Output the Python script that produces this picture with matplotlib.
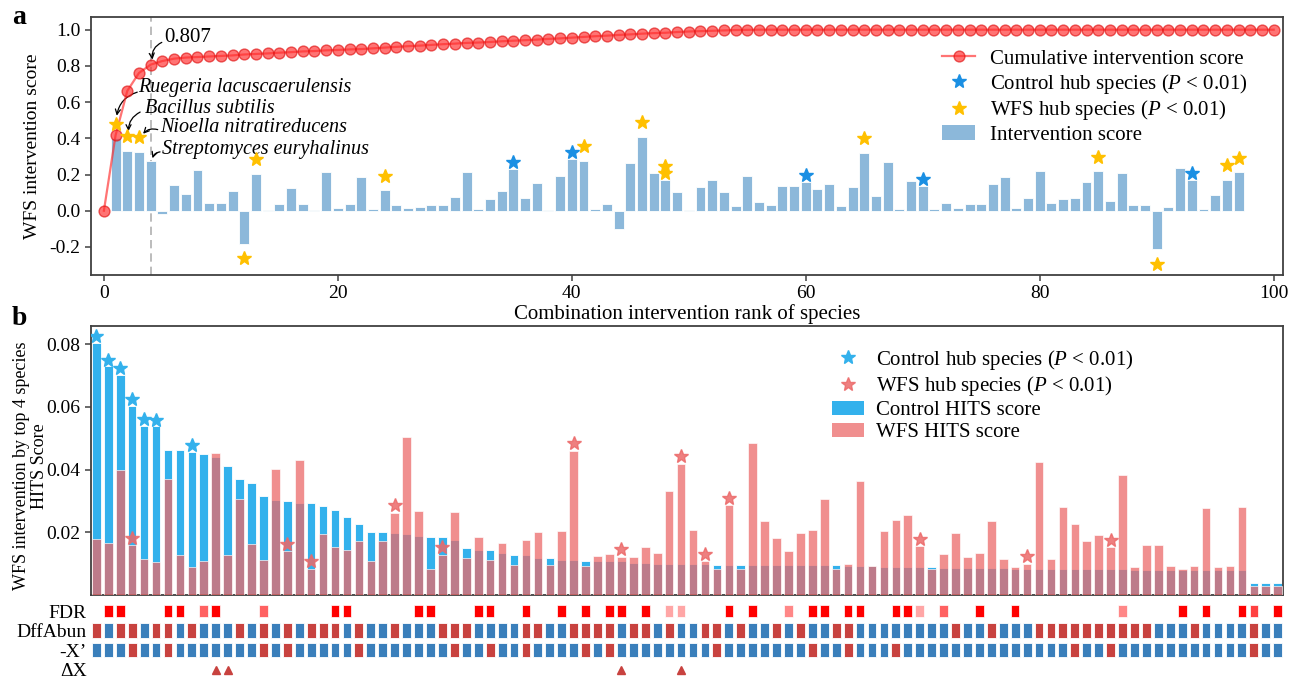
import numpy as np
import matplotlib
matplotlib.use('Agg')
import matplotlib.pyplot as plt
from matplotlib.lines import Line2D
from matplotlib.patches import Patch

plt.rcParams['font.family'] = 'Liberation Serif'
plt.rcParams['mathtext.fontset'] = 'custom'
plt.rcParams['mathtext.rm'] = 'Liberation Serif'
plt.rcParams['mathtext.it'] = 'Liberation Serif:italic'
plt.rcParams['font.size'] = 14

# ---- panel a: single-species intervention scores (rank 1..100)
cumulative = [0.000, 0.417, 0.662, 0.761, 0.807, 0.827, 0.840, 0.846, 0.849, 0.852,
              0.855, 0.858, 0.863, 0.866, 0.869, 0.873, 0.876, 0.880, 0.882, 0.886,
              0.888, 0.891, 0.893, 0.897, 0.901, 0.905, 0.909, 0.912, 0.916, 0.920,
              0.923, 0.927, 0.929, 0.932, 0.936, 0.939, 0.942, 0.945, 0.949, 0.952,
              0.956, 0.960, 0.964, 0.967, 0.971, 0.974, 0.978, 0.981, 0.983, 0.987,
              0.990, 0.992, 0.994, 0.996, 0.998, 0.999, 1.000, 1.000, 1.000, 1.000,
              1.000, 1.000, 1.000, 1.000, 1.000, 1.000, 1.000, 1.000, 1.000, 1.000,
              1.000, 1.000, 1.000, 1.000, 1.000, 1.000, 1.000, 1.000, 1.000, 1.000,
              1.000, 1.000, 1.000, 1.000, 1.000, 1.000, 1.000, 1.000, 1.000, 1.000,
              1.000, 1.000, 1.000, 1.000, 1.000, 1.000, 1.000, 1.000, 1.000, 1.000,
              1.000]
intervention = [0.400, 0.332, 0.327, 0.273, -0.020, 0.142, 0.092, 0.227, 0.042, 0.042,
                0.109, -0.183, 0.203, 0.002, 0.039, 0.125, 0.035, 0.004, 0.212, 0.015,
                0.035, 0.188, 0.009, 0.113, 0.031, 0.015, 0.022, 0.033, 0.030, 0.078,
                0.212, 0.011, 0.065, 0.107, 0.231, 0.072, 0.153, 0.002, 0.192, 0.286,
                0.277, 0.011, 0.039, -0.100, 0.262, 0.408, 0.207, 0.168, 0.103, 0.002,
                0.129, 0.170, 0.105, 0.028, 0.192, 0.048, 0.030, 0.137, 0.137, 0.159,
                0.120, 0.146, 0.024, 0.131, 0.319, 0.079, 0.269, 0.007, 0.166, 0.137,
                0.011, 0.042, 0.013, 0.037, 0.037, 0.148, 0.186, 0.015, 0.070, 0.221,
                0.042, 0.065, 0.070, 0.157, 0.218, 0.055, 0.207, 0.030, 0.030, -0.212,
                0.018, 0.234, 0.168, 0.007, 0.087, 0.170, 0.212, 0.001, 0.001, 0.001]
ctrl_hub_a = [35, 40, 60, 70, 93]
wfs_hub_a = [1, 2, 3, 12, 13, 24, 41, 46, 48, 65, 85, 90, 96, 97]
wfs_hub_a_low = [48]
top_species = ['Ruegeria lacuscaerulensis', 'Bacillus subtilis',
               'Nioella nitratireducens', 'Streptomyces euryhalinus']

# ---- panel b: HITS scores after removing the top 4 species
ctrl_hits = [0.0805, 0.0729, 0.0702, 0.0604, 0.0540, 0.0538, 0.0463, 0.0461, 0.0456, 0.0449,
             0.0440, 0.0412, 0.0371, 0.0358, 0.0315, 0.0304, 0.0299, 0.0295, 0.0292, 0.0284,
             0.0272, 0.0249, 0.0227, 0.0202, 0.0202, 0.0197, 0.0193, 0.0187, 0.0184, 0.0184,
             0.0177, 0.0150, 0.0145, 0.0145, 0.0135, 0.0129, 0.0129, 0.0119, 0.0117, 0.0113,
             0.0113, 0.0109, 0.0107, 0.0107, 0.0107, 0.0101, 0.0101, 0.0100, 0.0100, 0.0100,
             0.0098, 0.0098, 0.0097, 0.0096, 0.0096, 0.0096, 0.0096, 0.0096, 0.0096, 0.0096,
             0.0096, 0.0095, 0.0095, 0.0092, 0.0092, 0.0092, 0.0090, 0.0090, 0.0090, 0.0090,
             0.0088, 0.0087, 0.0087, 0.0086, 0.0086, 0.0085, 0.0085, 0.0082, 0.0082, 0.0082,
             0.0082, 0.0082, 0.0082, 0.0082, 0.0082, 0.0082, 0.0082, 0.0080, 0.0080, 0.0080,
             0.0080, 0.0080, 0.0080, 0.0080, 0.0080, 0.0080, 0.0080, 0.0039, 0.0039, 0.0039]
wfs_hits = [0.0180, 0.0165, 0.0400, 0.0159, 0.0115, 0.0105, 0.0370, 0.0129, 0.0089, 0.0108,
            0.0452, 0.0129, 0.0306, 0.0163, 0.0112, 0.0403, 0.0140, 0.0431, 0.0083, 0.0196,
            0.0154, 0.0144, 0.0172, 0.0110, 0.0173, 0.0262, 0.0504, 0.0267, 0.0083, 0.0128,
            0.0266, 0.0119, 0.0184, 0.0113, 0.0166, 0.0095, 0.0174, 0.0200, 0.0097, 0.0203,
            0.0460, 0.0094, 0.0126, 0.0131, 0.0122, 0.0121, 0.0152, 0.0135, 0.0331, 0.0419,
            0.0207, 0.0107, 0.0082, 0.0286, 0.0082, 0.0485, 0.0236, 0.0181, 0.0140, 0.0198,
            0.0207, 0.0306, 0.0082, 0.0100, 0.0364, 0.0094, 0.0203, 0.0240, 0.0256, 0.0156,
            0.0083, 0.0132, 0.0198, 0.0120, 0.0134, 0.0236, 0.0115, 0.0088, 0.0100, 0.0423,
            0.0115, 0.0281, 0.0225, 0.0172, 0.0191, 0.0152, 0.0382, 0.0089, 0.0161, 0.0161,
            0.0094, 0.0084, 0.0094, 0.0277, 0.0088, 0.0091, 0.0281, 0.0028, 0.0028, 0.0028]
ctrl_hub_b = [0, 1, 2, 3, 4, 5, 8]
wfs_hub_b = [3, 16, 18, 25, 29, 40, 44, 49, 51, 53, 69, 78, 85]

# annotation rows under panel b
fdr_idx = [1, 2, 6, 7, 9, 10, 14, 20, 21, 27, 28, 32, 33, 36, 39, 41, 43, 44, 46, 48,
           49, 53, 55, 58, 60, 61, 63, 64, 67, 68, 69, 71, 74, 77, 86, 91, 93, 96, 97, 99]
fdr_shade = [1, 1, 1, 1, 0.62, 1, 0.62, 1, 1, 1, 1, 1, 1, 1, 1, 1, 1, 1, 1, 0.35,
             0.35, 1, 1, 0.47, 1, 1, 1, 1, 1, 1, 0.35, 0.62, 1, 1, 0.47, 1, 1, 1, 0.75, 1]
dffabun_up = [1, 0, 1, 1, 0, 1, 1, 0, 1, 0, 0, 0, 1, 0, 1, 0, 1, 0, 1, 1,
              1, 0, 1, 0, 0, 1, 0, 0, 0, 1, 1, 1, 0, 0, 0, 0, 1, 1, 0, 0,
              1, 1, 1, 1, 0, 1, 1, 0, 1, 0, 0, 1, 1, 0, 1, 0, 0, 1, 0, 1,
              0, 0, 1, 1, 0, 0, 0, 0, 0, 0, 0, 0, 1, 0, 0, 1, 0, 0, 0, 1,
              1, 1, 1, 1, 1, 1, 1, 1, 1, 0, 0, 0, 1, 0, 0, 0, 0, 1, 0, 0]
negx_up = [3, 6, 14, 16, 22, 30, 33, 36, 41, 43, 52, 60, 63, 67, 82, 85, 97]
delta_x = [10, 11, 44, 49]
row_labels = ['FDR', 'DffAbun', '-X\u2019', '\u0394X']

BAR_A = '#8cb8da'
CUM_RED = '#ff2a2a'
STAR_Y = '#ffc000'
STAR_B = '#1a8fe3'
CTRL_C = '#33b1ec'
WFS_C = '#ec6a6a'
UP_C = '#c8423f'
DOWN_C = '#3a7fbb'
SPINE = '#404040'

fig = plt.figure(figsize=(12.93, 6.78), dpi=100)
L, W = 0.0704, 0.9219


def style_axes(ax):
    for s in ax.spines.values():
        s.set_color(SPINE)
        s.set_linewidth(1.3)
    ax.tick_params(direction='out', length=4, width=1.1, color=SPINE)


# ================= panel a =================
ax = fig.add_axes([L, 0.5944, W, 0.3805])
style_axes(ax)
ranks = np.arange(1, len(intervention) + 1)
ax.bar(ranks, intervention, width=0.85, color=BAR_A, edgecolor='white',
       linewidth=0.6, zorder=2)
ax.plot(np.arange(len(cumulative)), cumulative, '-o', color=CUM_RED, alpha=0.65,
        ms=7.8, mec='#e01010', mew=1.0, lw=1.6, zorder=4)
ax.axvline(4, color='#b0b0b0', ls=(0, (5, 3)), lw=1.2, zorder=1)

iv = np.array(intervention)
yb = [iv[i - 1] + 0.04 for i in ctrl_hub_a]
ax.plot(ctrl_hub_a, yb, '*', color=STAR_B, ms=10, ls='none', zorder=5)
yy = [iv[i - 1] + 0.08 if iv[i - 1] > 0 else iv[i - 1] - 0.08 for i in wfs_hub_a]
ax.plot(wfs_hub_a, yy, '*', color=STAR_Y, ms=10, ls='none', zorder=5)
ax.plot(wfs_hub_a_low, [iv[i - 1] + 0.04 for i in wfs_hub_a_low], '*', color=STAR_Y,
        ms=10, ls='none', zorder=5)

ax.set_xlim(-1.1, 100.8)
ax.set_ylim(-0.355, 1.07)
ax.set_xticks([0, 20, 40, 60, 80, 100])
ax.set_yticks([-0.2, 0.0, 0.2, 0.4, 0.6, 0.8, 1.0])
ax.set_yticklabels(['-0.2', '0.0', '0.2', '0.4', '0.6', '0.8', '1.0'])
ax.set_xlabel('Combination intervention rank of species', fontsize=15, labelpad=1)
ax.set_ylabel('WFS intervention score', fontsize=14, labelpad=6)

arrow_kw = dict(arrowstyle='->', color='black', lw=0.9, shrinkA=0, shrinkB=0,
                mutation_scale=9)
ax.text(5.2, 0.955, '%.3f' % cumulative[4], fontsize=15, ha='left', va='center')
ax.annotate('', xy=(4.15, 0.835), xytext=(4.95, 0.93),
            arrowprops=dict(connectionstyle='arc3,rad=0.35', **arrow_kw))
label_pos = [(2.9, 0.683), (3.5, 0.566), (4.8, 0.462), (4.95, 0.340)]
arrow_from = [(2.85, 0.655), (3.1, 0.545), (4.6, 0.448), (4.8, 0.325)]
arrow_to = [(1.1, 0.525), (2.1, 0.44), (3.35, 0.425), (4.15, 0.29)]
for name, p, a0, a1 in zip(top_species, label_pos, arrow_from, arrow_to):
    ax.text(p[0], p[1], name, fontsize=14.5, style='italic', ha='left', va='center')
    ax.annotate('', xy=a1, xytext=a0,
                arrowprops=dict(connectionstyle='arc3,rad=0.3', **arrow_kw))

handles_a = [
    Line2D([0], [0], color=CUM_RED, alpha=0.65, marker='o', ms=7.8, mec='#e01010', lw=1.6),
    Line2D([0], [0], color=STAR_B, marker='*', ms=10, ls='none'),
    Line2D([0], [0], color=STAR_Y, marker='*', ms=10, ls='none'),
    Patch(facecolor=BAR_A, edgecolor='none'),
]
labels_a = ['Cumulative intervention score', 'Control hub species ($P$ < 0.01)',
            'WFS hub species ($P$ < 0.01)', 'Intervention score']
ax.legend(handles_a, labels_a, loc='upper left', bbox_to_anchor=(0.714, 0.876),
          frameon=False, fontsize=15, borderpad=0, borderaxespad=0,
          handlelength=1.6, handletextpad=0.7, labelspacing=0.14)

# ================= panel b =================
bx = fig.add_axes([L, 0.1224, W, 0.3968])
style_axes(bx)
pos = np.arange(len(ctrl_hits))
bx.bar(pos, ctrl_hits, width=0.72, color=CTRL_C, edgecolor='white', linewidth=0.6, zorder=2)
bx.bar(pos, wfs_hits, width=0.72, color=WFS_C, alpha=0.75, edgecolor='white',
       linewidth=0.6, zorder=3)
ch = np.array(ctrl_hits)
wh = np.array(wfs_hits)
bx.plot(ctrl_hub_b, ch[ctrl_hub_b] + 0.0021, '*', color=CTRL_C, ms=10, ls='none', zorder=5)
bx.plot(wfs_hub_b, wh[wfs_hub_b] + 0.0024, '*', color=WFS_C, alpha=0.85, ms=10,
        ls='none', zorder=5)
bx.set_xlim(-0.45, 99.45)
bx.set_ylim(0, 0.0858)
bx.set_xticks([])
bx.set_yticks([0.02, 0.04, 0.06, 0.08])
bx.set_yticklabels(['0.02', '0.04', '0.06', '0.08'], fontsize=14)
bx.set_ylabel('WFS intervention by top 4 species\nHITS Score', fontsize=13,
              linespacing=1.1)
bx.yaxis.set_label_coords(-0.036, 0.48)

handles_b = [
    Line2D([0], [0], color=CTRL_C, marker='*', ms=10, ls='none'),
    Line2D([0], [0], color=WFS_C, alpha=0.85, marker='*', ms=10, ls='none'),
    Patch(facecolor=CTRL_C, edgecolor='none'),
    Patch(facecolor=WFS_C, alpha=0.75, edgecolor='none'),
]
labels_b = ['Control hub species ($P$ < 0.01)', 'WFS hub species ($P$ < 0.01)',
            'Control HITS score', 'WFS HITS score']
bx.legend(handles_b, labels_b, loc='upper left', bbox_to_anchor=(0.622, 0.92),
          frameon=False, fontsize=15, borderpad=0, borderaxespad=0,
          handlelength=1.5, handletextpad=0.6, labelspacing=0.12)

# ================= annotation rows =================
hx = fig.add_axes([L, 0.0, W, 0.1150])
fdr_colors = [(1.0, 1 - s, 1 - s) for s in fdr_shade]
hx.bar(fdr_idx, 0.62, bottom=-0.31, width=0.72, color=fdr_colors,
       edgecolor='white', linewidth=0.5)
hx.bar(pos, 0.76, bottom=1 - 0.38, width=0.74,
       color=[UP_C if d else DOWN_C for d in dffabun_up],
       edgecolor='white', linewidth=0.6)
hx.bar(pos, 0.72, bottom=2 - 0.36, width=0.74,
       color=[UP_C if i in negx_up else DOWN_C for i in pos],
       edgecolor='white', linewidth=0.6)
hx.plot(delta_x, [3] * len(delta_x), '^', color=UP_C, ms=6, ls='none')
hx.set_xlim(-0.45, 99.45)
hx.set_ylim(3.42, -0.56)
hx.set_xticks([])
hx.set_yticks(range(len(row_labels)))
hx.set_yticklabels(row_labels, fontsize=14)
hx.tick_params(length=0, pad=3)
for s in hx.spines.values():
    s.set_visible(False)

fig.text(0.009, 0.992, 'a', fontsize=20, fontweight='bold', va='top')
fig.text(0.009, 0.548, 'b', fontsize=20, fontweight='bold', va='top')

fig.savefig('out.png', dpi=100)
